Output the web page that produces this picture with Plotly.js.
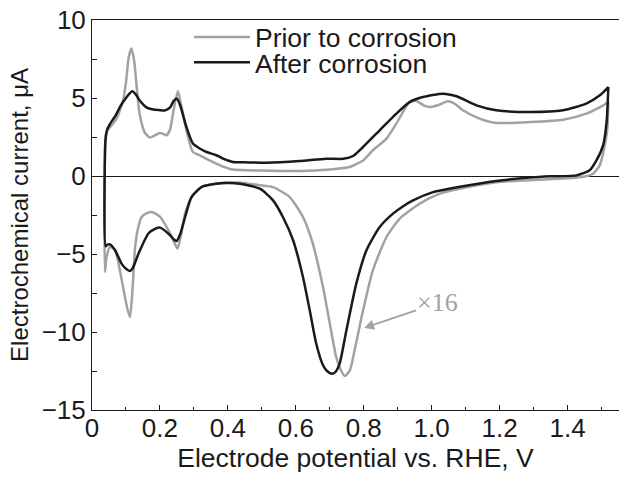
<!DOCTYPE html>
<html>
<head>
<meta charset="utf-8">
<script src="https://cdn.plot.ly/plotly-3.0.1.min.js"></script>
<style>html,body{margin:0;padding:0;background:#fff;}#chart{width:619px;height:477px;}</style>
</head>
<body>
<div id="chart"></div>
<script>
// ---- Data (potential in V vs RHE, current in µA) ----
// Prior to corrosion: anodic (upper) sweep
var priorUpperV = [0.040, 0.045, 0.052, 0.070, 0.082, 0.092, 0.100, 0.108, 0.116, 0.124, 0.132, 0.140, 0.155, 0.170, 0.185, 0.199, 0.210, 0.219, 0.230, 0.240, 0.253, 0.262, 0.278, 0.297, 0.317, 0.337, 0.366, 0.386, 0.415, 0.500, 0.611, 0.700, 0.759, 0.798, 0.827, 0.867, 0.896, 0.935, 0.955, 0.975, 0.995, 1.020, 1.048, 1.070, 1.092, 1.141, 1.190, 1.289, 1.387, 1.455, 1.505, 1.520];
var priorUpperI = [2.5, 2.9, 3.1, 3.6, 4.2, 4.9, 6.0, 7.6, 8.17, 7.4, 5.6, 4.0, 2.8, 2.46, 2.6, 2.76, 2.7, 2.6, 3.0, 4.2, 5.45, 4.6, 2.93, 1.54, 1.33, 1.1, 0.79, 0.6, 0.41, 0.35, 0.32, 0.42, 0.58, 1.0, 1.65, 2.4, 3.36, 4.74, 4.81, 4.55, 4.42, 4.55, 4.79, 4.6, 4.21, 3.68, 3.4, 3.46, 3.61, 4.0, 4.53, 4.74];
// Prior to corrosion: cathodic (lower) sweep
var priorLowerV = [1.520, 1.517, 1.505, 1.495, 1.475, 1.445, 1.400, 1.289, 1.190, 1.092, 1.024, 0.965, 0.906, 0.867, 0.827, 0.798, 0.773, 0.759, 0.744, 0.734, 0.719, 0.700, 0.680, 0.650, 0.621, 0.582, 0.533, 0.490, 0.435, 0.411, 0.380, 0.323, 0.293, 0.274, 0.262, 0.252, 0.243, 0.225, 0.200, 0.176, 0.160, 0.146, 0.135, 0.127, 0.120, 0.112, 0.104, 0.097, 0.082, 0.068, 0.053, 0.043, 0.038];
var priorLowerI = [4.74, 3.0, 1.5, 0.7, 0.15, -0.05, -0.15, -0.27, -0.4, -0.77, -1.13, -1.77, -2.73, -3.91, -6.04, -8.61, -11.17, -12.46, -12.82, -12.5, -11.6, -9.46, -7.12, -4.33, -2.63, -1.35, -0.71, -0.58, -0.42, -0.42, -0.45, -0.7, -1.35, -2.41, -3.8, -4.65, -4.3, -3.48, -2.6, -2.31, -2.4, -2.63, -3.4, -4.55, -7.0, -9.04, -8.5, -7.76, -6.04, -4.76, -4.55, -5.19, -6.15];
// After corrosion: anodic (upper) sweep
var afterUpperV = [0.040, 0.045, 0.052, 0.070, 0.082, 0.100, 0.118, 0.130, 0.140, 0.160, 0.180, 0.200, 0.214, 0.230, 0.240, 0.250, 0.260, 0.278, 0.297, 0.317, 0.337, 0.366, 0.386, 0.415, 0.450, 0.513, 0.611, 0.690, 0.740, 0.770, 0.798, 0.847, 0.896, 0.935, 0.974, 1.033, 1.073, 1.132, 1.190, 1.289, 1.387, 1.455, 1.495, 1.520];
var afterUpperI = [2.4, 3.0, 3.3, 3.9, 4.42, 5.0, 5.43, 5.2, 4.85, 4.4, 4.26, 4.22, 4.2, 4.4, 4.8, 4.96, 4.5, 3.14, 2.08, 1.76, 1.54, 1.33, 1.11, 0.9, 0.88, 0.85, 0.96, 1.11, 1.1, 1.3, 1.86, 2.93, 4.0, 4.74, 5.06, 5.28, 5.11, 4.53, 4.21, 4.1, 4.21, 4.64, 5.17, 5.7];
// After corrosion: cathodic (lower) sweep
var afterLowerV = [1.520, 1.515, 1.505, 1.485, 1.465, 1.426, 1.350, 1.289, 1.190, 1.092, 1.040, 1.004, 0.945, 0.915, 0.886, 0.847, 0.808, 0.778, 0.749, 0.729, 0.717, 0.705, 0.692, 0.680, 0.660, 0.641, 0.621, 0.592, 0.562, 0.533, 0.494, 0.435, 0.392, 0.350, 0.323, 0.293, 0.274, 0.260, 0.249, 0.240, 0.230, 0.200, 0.180, 0.166, 0.137, 0.120, 0.112, 0.100, 0.087, 0.068, 0.053, 0.045, 0.040];
var afterLowerI = [5.7, 3.5, 2.0, 1.0, 0.37, 0.04, -0.02, -0.1, -0.32, -0.66, -0.87, -1.03, -1.56, -1.95, -2.41, -3.27, -4.76, -6.9, -9.89, -12.03, -12.55, -12.67, -12.5, -12.13, -10.74, -8.61, -6.47, -4.12, -2.63, -1.56, -0.81, -0.49, -0.45, -0.55, -0.7, -1.35, -2.63, -3.7, -4.17, -4.05, -3.8, -3.31, -3.45, -3.69, -4.97, -5.9, -6.09, -5.95, -5.62, -4.76, -4.38, -4.4, -4.5];

var seriesNames = ['Prior to corrosion', 'After corrosion'];
var xTickVals = [0, 0.2, 0.4, 0.6, 0.8, 1.0, 1.2, 1.4];
var xTickText = ['0', '0.2', '0.4', '0.6', '0.8', '1.0', '1.2', '1.4'];
var yTickVals = [-15, -10, -5, 0, 5, 10];
var yTickText = ['\u221215', '\u221210', '\u22125', '0', '5', '10'];
var scaleNote = '\u00d716';

function loop(uv, ui, lv, li) {
  return {
    x: uv.concat(lv, [uv[0]]),
    y: ui.concat(li, [ui[0]])
  };
}
var prior = loop(priorUpperV, priorUpperI, priorLowerV, priorLowerI);
var after = loop(afterUpperV, afterUpperI, afterLowerV, afterLowerI);

var FONT = 'Liberation Sans, Arial, Helvetica, sans-serif';
var GRAY = '#a2a2a2';
var BLACK = '#1a1a1a';

var traces = [
  {x: prior.x, y: prior.y, mode: 'lines', name: seriesNames[0], legend: 'legend',
   line: {color: GRAY, width: 2.5, shape: 'spline', smoothing: 0.6}},
  {x: after.x, y: after.y, mode: 'lines', name: seriesNames[1], legend: 'legend2',
   line: {color: BLACK, width: 2.5, shape: 'spline', smoothing: 0.6}}
];

var layout = {
  width: 619, height: 477,
  margin: {l: 92, r: 0, t: 20, b: 67},
  paper_bgcolor: '#fff', plot_bgcolor: '#fff',
  font: {family: FONT, color: '#1a1a1a', size: 26},
  showlegend: true,
  legend: {x: 0.184, y: 0.956, xanchor: 'left', yanchor: 'middle', bgcolor: 'rgba(0,0,0,0)',
           font: {family: FONT, size: 26.5, color: '#1a1a1a'}, itemwidth: 56},
  legend2: {x: 0.184, y: 0.891, xanchor: 'left', yanchor: 'middle', bgcolor: 'rgba(0,0,0,0)',
           font: {family: FONT, size: 26.5, color: '#1a1a1a'}, itemwidth: 56},
  xaxis: {
    range: [0, 1.5514], showgrid: false, zeroline: false,
    showline: true, linecolor: '#1a1a1a', linewidth: 1, mirror: true,
    ticks: 'inside', ticklen: 5, tickcolor: '#1a1a1a', tickwidth: 1,
    tickmode: 'array', tickvals: xTickVals, ticktext: xTickText,
    ticklabelstandoff: -5,
    minor: {dtick: 0.1, tick0: 0, ticks: 'inside', ticklen: 3, tickcolor: '#1a1a1a'},
    tickfont: {family: FONT, size: 26, color: '#1a1a1a'},
    title: {text: 'Electrode potential vs. RHE, V', font: {family: FONT, size: 26.5, color: '#1a1a1a'}, standoff: 6}
  },
  yaxis: {
    range: [-15, 10], showgrid: false,
    zeroline: true, zerolinecolor: '#1a1a1a', zerolinewidth: 1,
    showline: true, linecolor: '#1a1a1a', linewidth: 1, mirror: false,
    ticks: 'inside', ticklen: 5, tickcolor: '#1a1a1a', tickwidth: 1,
    tickmode: 'array', tickvals: yTickVals, ticktext: yTickText,
    minor: {dtick: 2.5, tick0: 0, ticks: 'inside', ticklen: 5, tickcolor: '#1a1a1a'},
    tickfont: {family: FONT, size: 26, color: '#1a1a1a'},
    title: {text: 'Electrochemical current, \u03bcA', font: {family: FONT, size: 24, color: '#1a1a1a'}, standoff: 6}
  },
  annotations: [{
    x: 0.8007, y: -9.74, xref: 'x', yref: 'y',
    text: scaleNote, showarrow: true, arrowhead: 2, arrowsize: 1, arrowwidth: 2,
    arrowcolor: GRAY, ax: 74, ay: -25, standoff: 0,
    font: {family: 'Liberation Serif, Times New Roman, serif', size: 26, color: GRAY}
  }]
};

Plotly.newPlot('chart', traces, layout, {displayModeBar: false, staticPlot: true});
</script>
</body>
</html>
